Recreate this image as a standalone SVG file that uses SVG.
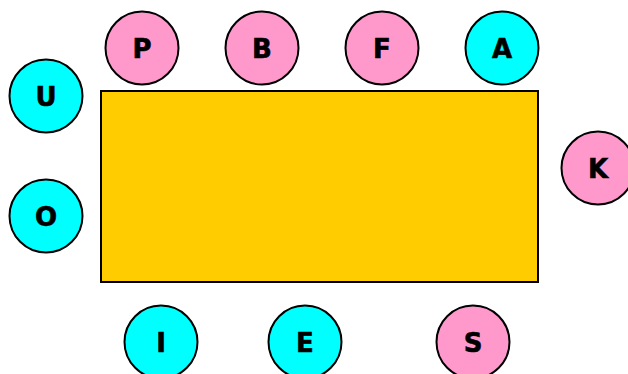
<svg xmlns="http://www.w3.org/2000/svg" width="628" height="374" viewBox="0 0 628 374">
<style>
.n circle{stroke:#000;stroke-width:2}
.pink{fill:#FF99CC}
.cyan{fill:#00FFFF}
.n text{font-family:"DejaVu Sans",Verdana,sans-serif;font-weight:bold;font-size:26px;text-anchor:middle;fill:#000;stroke:#000;stroke-width:0.6}
</style>
<rect width="628" height="374" fill="#fff"/>
<g id="table"><rect x="101" y="91" width="437" height="191" fill="#FFCC00" stroke="#000" stroke-width="2"/></g>
<g id="connectors"></g>
<g id="P" class="n"><circle class="pink" cx="142" cy="48" r="36.5"/><text x="142" y="57.5">P</text></g>
<g id="B" class="n"><circle class="pink" cx="262" cy="48" r="36.5"/><text x="262" y="57.5">B</text></g>
<g id="F" class="n"><circle class="pink" cx="382" cy="48" r="36.5"/><text x="382" y="57.5">F</text></g>
<g id="A" class="n"><circle class="cyan" cx="502" cy="48" r="36.5"/><text x="502" y="57.5">A</text></g>
<g id="U" class="n"><circle class="cyan" cx="46" cy="96" r="36.5"/><text x="46" y="105.5">U</text></g>
<g id="O" class="n"><circle class="cyan" cx="46" cy="216" r="36.5"/><text x="46" y="225.5">O</text></g>
<g id="K" class="n"><circle class="pink" cx="598" cy="168" r="36.5"/><text x="598" y="177.5">K</text></g>
<g id="I" class="n"><circle class="cyan" cx="161" cy="342" r="36.5"/><text x="161" y="351.5">I</text></g>
<g id="E" class="n"><circle class="cyan" cx="305" cy="342" r="36.5"/><text x="305" y="351.5">E</text></g>
<g id="S" class="n"><circle class="pink" cx="473" cy="342" r="36.5"/><text x="473" y="351.5">S</text></g>
</svg>
